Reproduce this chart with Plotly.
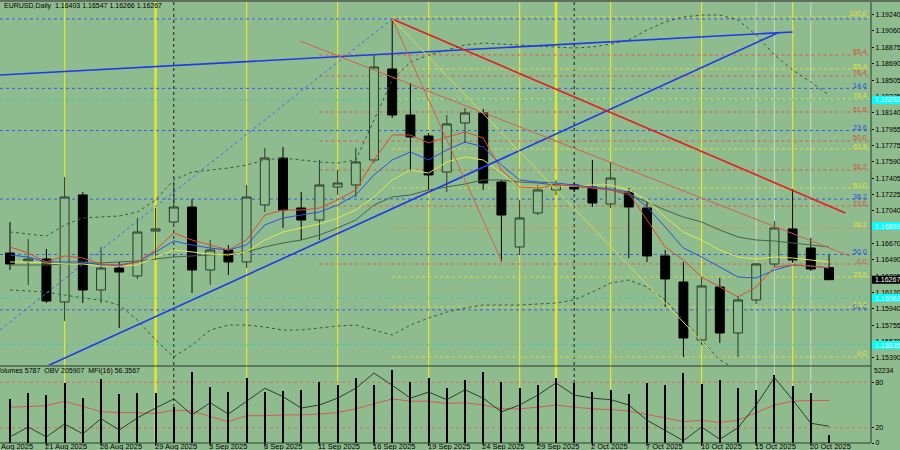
import plotly.graph_objects as go

# ---------------- data ----------------
dates = ["2025-08-19","2025-08-20","2025-08-21","2025-08-22","2025-08-25","2025-08-26","2025-08-27","2025-08-28","2025-08-29",
         "2025-09-01","2025-09-02","2025-09-03","2025-09-04","2025-09-05","2025-09-08","2025-09-09","2025-09-10","2025-09-11",
         "2025-09-12","2025-09-15","2025-09-16","2025-09-17","2025-09-18","2025-09-19","2025-09-22","2025-09-23","2025-09-24",
         "2025-09-25","2025-09-26","2025-09-29","2025-09-30","2025-10-01","2025-10-02","2025-10-03","2025-10-06","2025-10-07",
         "2025-10-08","2025-10-09","2025-10-10","2025-10-13","2025-10-14","2025-10-15","2025-10-16","2025-10-17","2025-10-20",
         "2025-10-21"]
opens  = [1.16566,1.16477,1.16499,1.16017,1.17217,1.16152,1.16398,1.16309,1.16813,1.16914,1.17082,1.16376,1.16600,1.16466,
          1.17105,1.17631,1.17071,1.16936,1.17306,1.17329,1.17609,1.18629,1.18113,1.17878,1.17474,1.18024,1.18136,1.17362,
          1.16634,1.17015,1.17273,1.17329,1.17306,1.17116,1.17250,1.17071,1.16533,1.16241,1.15591,1.16185,1.15670,1.16040,
          1.16443,1.16836,1.16623,1.16403]
highs  = [1.16914,1.16723,1.16611,1.17418,1.17250,1.16634,1.16466,1.16959,1.17071,1.17351,1.17172,1.16712,1.16656,1.17329,
          1.17744,1.17755,1.17250,1.17609,1.17497,1.17744,1.18797,1.19190,1.18472,1.17912,1.18113,1.18192,1.18181,1.17385,
          1.17161,1.17329,1.17385,1.17351,1.17609,1.17587,1.17295,1.17138,1.16600,1.16466,1.16297,1.16286,1.16084,1.16454,
          1.16925,1.17284,1.16735,1.16547]
lows   = [1.16376,1.16208,1.16006,1.15804,1.16006,1.16006,1.15726,1.16275,1.16488,1.16892,1.16118,1.16208,1.16320,1.16398,
          1.17026,1.16847,1.16712,1.16712,1.17217,1.17194,1.17575,1.18080,1.17486,1.17273,1.17250,1.17800,1.17273,1.16466,
          1.16544,1.16992,1.17217,1.17250,1.17082,1.17071,1.16510,1.16466,1.15961,1.15401,1.15535,1.15558,1.15401,1.15995,
          1.16410,1.16454,1.16365,1.16266]
closes = [1.16443,1.16499,1.16028,1.17194,1.16152,1.16398,1.16353,1.16802,1.16836,1.17082,1.16376,1.16600,1.16466,1.17194,
          1.17631,1.17048,1.16936,1.17329,1.17351,1.17587,1.18651,1.18113,1.17867,1.17441,1.18013,1.18136,1.17351,1.16992,
          1.16959,1.17273,1.17329,1.17284,1.17127,1.17407,1.17082,1.16533,1.16275,1.15614,1.16197,1.15670,1.16040,1.16443,
          1.16847,1.16488,1.16387,1.16267]

ma_red    = [1.16634,1.16566,1.16466,1.16533,1.16510,1.16443,1.16421,1.16466,1.16600,1.16791,1.16712,1.16656,1.16600,1.16712,
             1.16992,1.17048,1.17048,1.17071,1.17161,1.17273,1.17609,1.17889,1.17889,1.17800,1.17867,1.17923,1.17856,1.17497,
             1.17306,1.17295,1.17329,1.17317,1.17295,1.17273,1.17239,1.16936,1.16634,1.16488,1.16297,1.16185,1.16073,1.16185,
             1.16409,1.16432,1.16421,1.16398]
ma_blue   = [1.16544,1.16522,1.16466,1.16466,1.16466,1.16432,1.16432,1.16466,1.16578,1.16701,1.16656,1.16622,1.16600,1.16656,
             1.16880,1.16959,1.16992,1.17026,1.17104,1.17217,1.17441,1.17609,1.17699,1.17609,1.17721,1.17811,1.17755,1.17553,
             1.17385,1.17362,1.17351,1.17329,1.17306,1.17284,1.17250,1.17082,1.16858,1.16622,1.16522,1.16409,1.16297,1.16286,
             1.16376,1.16432,1.16421,1.16398]
ma_yellow = [1.16466,1.16466,1.16454,1.16443,1.16443,1.16421,1.16421,1.16432,1.16522,1.16600,1.16578,1.16555,1.16544,1.16578,
             1.16712,1.16802,1.16847,1.16892,1.16959,1.17048,1.17194,1.17385,1.17497,1.17463,1.17587,1.17643,1.17609,1.17463,
             1.17306,1.17306,1.17317,1.17317,1.17329,1.17329,1.17273,1.17161,1.16970,1.16802,1.16712,1.16600,1.16522,1.16499,
             1.16522,1.16510,1.16488,1.16466]
ma_green  = [1.16432,1.16432,1.16432,1.16443,1.16454,1.16454,1.16466,1.16477,1.16499,1.16522,1.16533,1.16544,1.16555,1.16578,
             1.16634,1.16679,1.16712,1.16768,1.16847,1.16936,1.17104,1.17194,1.17217,1.17273,1.17306,1.17340,1.17385,1.17385,
             1.17362,1.17351,1.17329,1.17317,1.17295,1.17273,1.17217,1.17138,1.17048,1.16970,1.16914,1.16824,1.16746,1.16712,
             1.16701,1.16679,1.16656,1.16634]
band_upper = [1.16802,1.16779,1.16757,1.16880,1.16959,1.16970,1.16981,1.17026,1.17161,1.17385,1.17474,1.17497,1.17519,1.17553,
              1.17609,1.17631,1.17609,1.17587,1.17575,1.17609,1.18057,1.18506,1.18707,1.18786,1.18842,1.18898,1.18920,1.18909,
              1.18898,1.18887,1.18876,1.18864,1.18876,1.18909,1.18954,1.19066,1.19156,1.19212,1.19234,1.19234,1.19178,1.19010,
              1.18786,1.18618,1.18483,1.18338]
band_lower = [1.16152,1.16140,1.16129,1.16096,1.16062,1.16040,1.15983,1.15815,1.15591,1.15401,1.15535,1.15703,1.15759,1.15759,
              1.15737,1.15703,1.15703,1.15726,1.15748,1.15759,1.15703,1.15647,1.15759,1.15838,1.15905,1.15950,1.15983,1.15983,
              1.15983,1.15995,1.16006,1.16040,1.16129,1.16230,1.16264,1.16185,1.16040,1.15815,1.15591,1.15367,1.15255,1.15199,
              1.15199,1.15232,1.15255,1.15277]

volumes = [31482,35775,34344,42930,32198,45792,35060,35775,35775,25758,50800,40068,36490,46508,36490,37206,37922,43646,
           41499,46508,41499,52234,43646,46508,39353,45077,51000,43646,39353,41499,46508,42930,36490,37922,35060,42930,
           41499,50085,42215,45077,39353,37922,48654,40784,35775,5787]
obv_line = [8,21,8,25,12,32,17,33,46,58,37,53,38,55,72,61,46,50,59,72,92,76,59,67,57,70,59,41,50,63,79,63,59,57,50,30,
            17,3,21,5,20,50,86,57,26,22]
mfi_line = [47,48,49,55,48,41,40,40,39,43,42,35,28,36,36,37,37,38,40,45,52,58,55,55,52,53,50,45,45,47,50,47,45,44,42,38,
            33,28,30,27,30,40,50,55,56,56]

price_ticks = [1.19240,1.19060,1.18875,1.18690,1.18505,1.18325,1.18140,1.17955,1.17775,1.17590,1.17405,1.17225,1.17040,
               1.16860,1.16670,1.16490,1.16305,1.16120,1.15940,1.15755,1.15570,1.15390]
x_tick_bars = [-1,2,5,8,11,14,17,20,23,26,29,32,35,38,41,44]
x_tick_labels = ["18 Aug 2025","21 Aug 2025","26 Aug 2025","29 Aug 2025","3 Sep 2025","8 Sep 2025","11 Sep 2025",
                 "16 Sep 2025","19 Sep 2025","24 Sep 2025","29 Sep 2025","2 Oct 2025","7 Oct 2025","10 Oct 2025",
                 "15 Oct 2025","20 Oct 2025"]

fib_blue_levels = [1.19190,1.18412,1.17939,1.17171,1.16550,1.15929]
fib_blue_labels = ["","14.6","23.6","38.2","50.0","61.8"]
fib_red_levels = [1.18786,1.18551,1.18147,1.17822,1.17497,1.17093,1.16443]
fib_red_labels = ["85.4","76.4","61.8","50.0","38.2","23.6","0.0"]
fib_yellow_levels = [1.19212,1.18629,1.18293,1.17732,1.17295,1.16847,1.16297,1.15961,1.15401]
fib_yellow_labels = ["100.0","85.4","76.4","61.8","50.0","38.2","23.6","14.6","0.0"]
cyan_levels = [1.18282,1.16062,1.15535]
cyan_boxes = [1.18282,1.16869,1.16062,1.15535]

week_end_bars = [3,13,18,23,28,33,38,43]
month_end_bars = [8,30]
month_start_bars = [9,31]
light_bars = [41,42,44]

last_close = 1.16267
header = "EURUSD,Daily  1.16403 1.16547 1.16266 1.16267"
sub_header = "Volumes 5787  OBV 205907  MFI(16) 56.3567"
vol_max_label = "52234"

# ---------------- layout helpers ----------------
W, H = 900, 450
PW = 871          # plot-area width in px
BAR0, BAR_STEP = 10, 18.2
BG = "#8FBC8F"
x = list(range(len(dates)))
XR = [-BAR0/BAR_STEP, (PW - BAR0)/BAR_STEP]
Y_MAIN = [1.15311, 1.19380]
def py(px):
    return 1 - px / H
def pxx(px):
    return px / PW

FONT = "Liberation Sans"
fig = go.Figure()

fig.add_trace(go.Scatter(x=x, y=band_upper, mode="lines", line=dict(color="#3f553f", width=1, dash="dot"), hoverinfo="skip"))
fig.add_trace(go.Scatter(x=x, y=band_lower, mode="lines", line=dict(color="#3f553f", width=1, dash="dot"), hoverinfo="skip"))
fig.add_trace(go.Scatter(x=x, y=ma_green, mode="lines", line=dict(color="#4a614a", width=1), hoverinfo="skip"))
fig.add_trace(go.Scatter(x=x, y=ma_yellow, mode="lines", line=dict(color="#e6e64a", width=1), hoverinfo="skip"))
fig.add_trace(go.Scatter(x=x, y=ma_blue, mode="lines", line=dict(color="#2c50e0", width=1), hoverinfo="skip"))
fig.add_trace(go.Scatter(x=x, y=ma_red, mode="lines", line=dict(color="#e0482c", width=1), hoverinfo="skip"))

peak_bar = 21
peak = highs[peak_bar]
trend_lines = [
    dict(x=[XR[0], 43.0], y=[1.18562, 1.19044], color="#1e3ce6", width=1.6, dash="solid"),
    dict(x=[1.92, 42.2], y=[1.15288, 1.19035], color="#1e3ce6", width=1.6, dash="solid"),
    dict(x=[peak_bar, 45.9], y=[peak, 1.17015], color="#e41e1e", width=1.6, dash="solid"),
    dict(x=[XR[0], peak_bar], y=[1.15703, peak], color="#4a64e6", width=1, dash="dot"),
    dict(x=[15.93, 46.15], y=[1.18943, 1.16533], color="#d2604a", width=1, dash="solid"),
    dict(x=[peak_bar, 27.03], y=[peak, 1.16466], color="#d2604a", width=1, dash="solid"),
    dict(x=[peak_bar, 38.46], y=[peak, 1.15479], color="#d8d850", width=1, dash="solid"),
]
for t in trend_lines:
    fig.add_trace(go.Scatter(x=t["x"], y=t["y"], mode="lines",
                             line=dict(color=t["color"], width=t["width"], dash=t["dash"]), hoverinfo="skip"))

fig.add_trace(go.Candlestick(
    x=x, open=opens, high=highs, low=lows, close=closes,
    increasing=dict(line=dict(color="#2a3a2a", width=1), fillcolor=BG),
    decreasing=dict(line=dict(color="#000000", width=1), fillcolor="#000000"),
    whiskerwidth=0, hoverinfo="skip"))

fig.add_trace(go.Bar(x=x, y=volumes, yaxis="y3", width=0.12, marker=dict(color="#000000", line=dict(width=0)), hoverinfo="skip"))
fig.add_trace(go.Scatter(x=x, y=mfi_line, yaxis="y2", mode="lines", line=dict(color="#d65a4a", width=1), hoverinfo="skip"))
fig.add_trace(go.Scatter(x=x, y=obv_line, yaxis="y2", mode="lines", line=dict(color="#2e3e2e", width=1), hoverinfo="skip"))

shapes = []
for b in week_end_bars:
    shapes.append(dict(type="line", xref="x", yref="paper", x0=b, x1=b, y0=py(443), y1=py(2),
                       line=dict(color="#e6e632", width=1.2), layer="below"))
for b in month_end_bars:
    shapes.append(dict(type="line", xref="x", yref="paper", x0=b, x1=b, y0=py(443), y1=py(2),
                       line=dict(color="#e6e632", width=2.5), layer="below"))
for b in month_start_bars:
    shapes.append(dict(type="line", xref="x", yref="paper", x0=b, x1=b, y0=py(443), y1=py(2),
                       line=dict(color="#1a1a1a", width=1, dash="dot"), layer="below"))
for b in light_bars:
    shapes.append(dict(type="line", xref="x", yref="paper", x0=b, x1=b, y0=py(443), y1=py(2),
                       line=dict(color="#c8dcc8", width=1), layer="below"))

annotations = []
def hline(level, x0, color, label=None, lcolor=None):
    shapes.append(dict(type="line", xref="x", yref="y", x0=x0, x1=XR[1], y0=level, y1=level,
                       line=dict(color=color, width=1, dash="dot"), layer="below"))
    if label:
        annotations.append(dict(xref="paper", yref="y", x=pxx(869), y=level, text=label, showarrow=False,
                                xanchor="right", yanchor="middle", yshift=3,
                                font=dict(family=FONT, size=7, color=lcolor or color)))

for lv, lb in zip(fib_blue_levels, fib_blue_labels):
    hline(lv, XR[0], "#3a5ae6", lb, "#2a48e0")
for lv, lb in zip(fib_red_levels, fib_red_labels):
    hline(lv, 17, "#d85c4c", lb, "#d84a3c")
for lv, lb in zip(fib_yellow_levels, fib_yellow_labels):
    hline(lv, 21, "#dada3c" if lb != "38.2" else "#e0903a", lb, "#e2e23a")
for lv in cyan_levels:
    hline(lv, XR[0], "#3cc8b4")

for lv in [80, 20]:
    shapes.append(dict(type="line", xref="x", yref="y2", x0=XR[0], x1=XR[1], y0=lv, y1=lv,
                       line=dict(color="#e06a5a", width=1, dash="dot"), layer="below"))

shapes += [
    dict(type="rect", xref="paper", yref="paper", x0=0, x1=pxx(W), y0=py(2), y1=1, fillcolor="#5f6f5f", line=dict(width=0)),
    dict(type="line", xref="paper", yref="paper", x0=0, x1=1, y0=py(366), y1=py(366), line=dict(color="#2a3a2a", width=1)),
    dict(type="line", xref="paper", yref="paper", x0=0, x1=1, y0=py(443), y1=py(443), line=dict(color="#2a3a2a", width=1)),
    dict(type="line", xref="paper", yref="paper", x0=1, x1=1, y0=py(443), y1=py(2), line=dict(color="#2a3a2a", width=1)),
]

box_h = 0.00045
for lv in cyan_boxes:
    shapes.append(dict(type="rect", xref="paper", yref="y", x0=pxx(872), x1=pxx(W), y0=lv-box_h, y1=lv+box_h,
                       fillcolor="#00ffff", line=dict(width=0)))
    annotations.append(dict(xref="paper", yref="y", x=pxx(873), y=lv, text=f"{lv:.5f}", showarrow=False,
                            xanchor="left", yanchor="middle", xshift=0,
                            font=dict(family=FONT, size=7, color="#ffffff")))
shapes.append(dict(type="rect", xref="paper", yref="y", x0=pxx(872), x1=pxx(W), y0=last_close-box_h, y1=last_close+box_h,
                   fillcolor="#000000", line=dict(width=0)))
annotations.append(dict(xref="paper", yref="y", x=pxx(873), y=last_close, text=f"{last_close:.5f}", showarrow=False,
                        xanchor="left", yanchor="middle", font=dict(family=FONT, size=7, color="#ffffff")))

for b, t in zip(x_tick_bars, x_tick_labels):
    bx = BAR0 + BAR_STEP * b
    annotations.append(dict(xref="paper", yref="paper", x=pxx(bx - 3), y=py(446), text=t, showarrow=False,
                            xanchor="left", yanchor="middle",
                            font=dict(family=FONT, size=7.5, color="#000000")))
    shapes.append(dict(type="line", xref="x", yref="paper", x0=b, x1=b, y0=py(443), y1=py(446),
                       line=dict(color="#000000", width=1)))

annotations.append(dict(xref="paper", yref="paper", x=pxx(2), y=py(6), text=header, showarrow=False,
                        xanchor="left", yanchor="middle", font=dict(family=FONT, size=7, color="#000000")))
annotations.append(dict(xref="paper", yref="paper", x=pxx(-6), y=py(371), text=sub_header, showarrow=False,
                        xanchor="left", yanchor="middle", font=dict(family=FONT, size=7, color="#000000")))
annotations.append(dict(xref="paper", yref="paper", x=pxx(872), y=py(370), text=vol_max_label, showarrow=False,
                        xanchor="left", yanchor="middle", font=dict(family=FONT, size=7, color="#000000")))

fig.update_layout(
    width=W, height=H, margin=dict(l=0, r=W - PW, t=0, b=0, autoexpand=False),
    paper_bgcolor=BG, plot_bgcolor=BG, showlegend=False,
    xaxis=dict(range=XR, showticklabels=False, showgrid=False, zeroline=False, rangeslider=dict(visible=False),
               fixedrange=True, anchor="y2", automargin=False, ticks=""),
    yaxis=dict(domain=[py(365), py(2)], range=Y_MAIN, side="right", tickvals=price_ticks,
               ticktext=[f"{v:.5f}" for v in price_ticks], showgrid=False, zeroline=False,
               ticks="outside", ticklen=2, tickcolor="#000000", automargin=False,
               tickfont=dict(family=FONT, size=7, color="#000000"), anchor="x"),
    yaxis2=dict(domain=[py(443), py(367)], range=[0, 100], side="right", tickvals=[0, 20, 80],
                ticktext=["0", "20", "80"], showgrid=False, zeroline=False, ticks="outside", ticklen=2,
                tickcolor="#000000", tickfont=dict(family=FONT, size=7, color="#000000"), anchor="x",
                automargin=False),
    yaxis3=dict(domain=[py(443), py(367)], range=[0, 54380], overlaying="y2", visible=False, anchor="x"),
    shapes=shapes, annotations=annotations, bargap=0,
)

fig.write_html("out.html", config={"displayModeBar": False, "staticPlot": True},
               post_script="document.body.style.margin='0';document.body.style.overflow='hidden';")
